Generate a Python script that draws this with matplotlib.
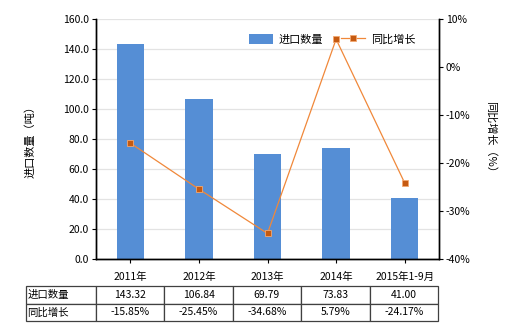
import matplotlib.pyplot as plt
import numpy as np

plt.rcParams['font.family'] = ['Noto Sans CJK SC', 'DejaVu Sans']

# data
categories = ['2011年', '2012年', '2013年', '2014年', '2015年1-9月']
import_qty = [143.32, 106.84, 69.79, 73.83, 41.00]
yoy_growth = [-15.85, -25.45, -34.68, 5.79, -24.17]
qty_labels = ['143.32', '106.84', '69.79', '73.83', '41.00']
growth_labels = ['-15.85%', '-25.45%', '-34.68%', '5.79%', '-24.17%']

bar_color = '#558ED5'
line_color = '#F0883A'
marker_color = '#C55A11'

fig = plt.figure(figsize=(5.2, 3.3), dpi=100)
ax = fig.add_axes([96 / 520, 1 - 259 / 330, 343 / 520, 240 / 330])
ax2 = ax.twinx()

x = np.arange(len(categories))
ax.bar(x, import_qty, width=0.4, color=bar_color, label='进口数量', zorder=2)
ax.set_xlim(-0.5, len(categories) - 0.5)
ax.set_ylim(0, 160)
ax.set_yticks(np.arange(0, 161, 20))
ax.set_yticklabels(['%.1f' % v for v in np.arange(0, 161, 20)], fontsize=7.5)
ax.set_xticks(x)
ax.set_xticklabels(categories, fontsize=7.5)
ax.grid(axis='y', color='#E3E3E3', linewidth=0.9, zorder=0)
ax.set_axisbelow(True)
ax.tick_params(axis='y', length=3, pad=2)
ax.tick_params(axis='x', length=3, pad=6)
ax.set_ylabel('进口数量（吨）', fontsize=8, labelpad=20)

ax2.plot(x, yoy_growth, color=line_color, linewidth=0.9, marker='s', markersize=4,
         markerfacecolor=marker_color, markeredgecolor='#F4A870', markeredgewidth=0.6,
         label='同比增长', zorder=3)
ax2.set_ylim(-40, 10)
ax2.set_yticks(np.arange(-40, 11, 10))
ax2.set_yticklabels(['%d%%' % v for v in np.arange(-40, 11, 10)], fontsize=7.5)
ax2.tick_params(axis='y', length=3, pad=2)
ax2.set_ylabel('同比增长（%）', fontsize=8, rotation=-90, labelpad=18)

for a in (ax, ax2):
    a.spines['top'].set_visible(False)
    for s in ('left', 'right', 'bottom'):
        a.spines[s].set_color('black')
        a.spines[s].set_linewidth(1)

h1, l1 = ax.get_legend_handles_labels()
h2, l2 = ax2.get_legend_handles_labels()
ax2.legend(h1 + h2, l1 + l2, loc='upper right', bbox_to_anchor=(0.96, 0.98), ncol=2,
           frameon=False, fontsize=8, handlelength=2.2, handleheight=1.0,
           columnspacing=1.6, handletextpad=0.5)

# data table under the chart
cell_text = [['进口数量'] + qty_labels, ['同比增长'] + growth_labels]
first_w = 70 / 412
other_w = (1 - first_w) / len(categories)
tbl = ax.table(cellText=cell_text, cellLoc='center',
               colWidths=[first_w] + [other_w] * len(categories),
               bbox=[-70 / 343, -62 / 240, 412 / 343, 35 / 240])
tbl.auto_set_font_size(False)
tbl.set_fontsize(7.5)
for (r, c), cell in tbl.get_celld().items():
    cell.set_edgecolor('#404040')
    cell.set_linewidth(0.9)
    if c == 0:
        cell.set_text_props(ha='left')
        cell.PAD = 0.02

fig.savefig('out.png', dpi=100)
